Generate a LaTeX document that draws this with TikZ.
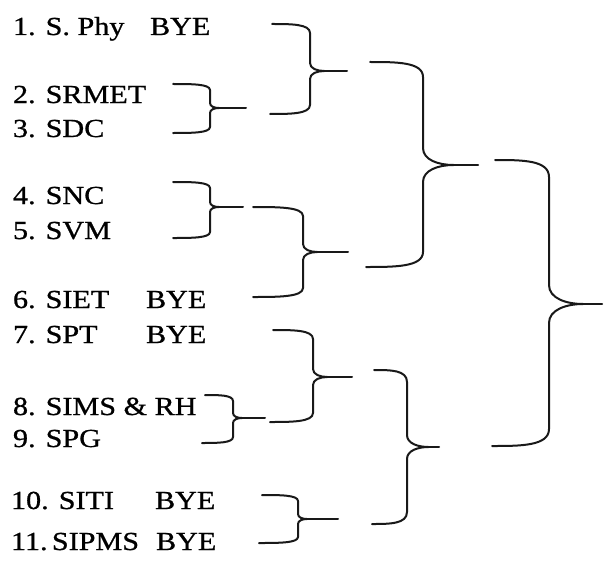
\documentclass[tikz,border=0pt]{standalone}
\usepackage{fontspec}
\setmainfont{Liberation Serif}[FakeStretch=1.16,FakeBold=0.8]
\begin{document}
\begin{tikzpicture}[x=1pt,y=-1pt,
  brline/.style={line width=2pt,line cap=round,line join=round,black!90},
  team/.style={anchor=base west,inner sep=0pt,outer sep=0pt,font=\fontsize{26}{30}\selectfont}]
\newcommand\brk[9]{%
 \draw[brline] (#1,#5) .. controls ({(#1+#3)/2},#5) and (#3,#5) .. (#3,{#5+#8})
   -- (#3,{#6-#9}) .. controls (#3,{#6-0.3*#9}) and ({#3+0.9*#9},#6) .. ({#3+1.8*#9},#6)
   .. controls ({#3+0.9*#9},#6) and (#3,{#6+0.3*#9}) .. (#3,{#6+#9})
   -- (#3,{#7-#8}) .. controls (#3,#7) and ({(#2+#3)/2},#7) .. (#2,#7);
 \draw[brline] ({#3+1.8*#9},#6) -- (#4,#6);}
\path[use as bounding box,fill=white] (0,0) rectangle (604,575);
% teams
\node[team] (t1) at (13,35) {1. S. Phy};
\node[team] (b1) at (150,35) {BYE};
\node[team] (t2) at (13,103) {2. SRMET};
\node[team] (t3) at (13,137) {3. SDC};
\node[team] (t4) at (13,204) {4. SNC};
\node[team] (t5) at (13,239) {5. SVM};
\node[team] (t6) at (13,308) {6. SIET};
\node[team] (b6) at (146,308) {BYE};
\node[team] (t7) at (13,343) {7. SPT};
\node[team] (b7) at (146,343) {BYE};
\node[team] (t8) at (13,415) {8. SIMS \& RH};
\node[team] (t9) at (13,447) {9. SPG};
\node[team] (t10) at (11,509) {10. SITI};
\node[team] (b10) at (155,509) {BYE};
\node[team] (t11) at (11,550) {11.\,SIPMS};
\node[team] (b11) at (156,550) {BYE};
% braces
\brk{272}{270}{310}{347}{24}{71}{114}{9}{8}
\brk{173}{173}{210}{246}{84}{108}{133}{6}{5}
\brk{173}{173}{210}{243}{182}{207}{238}{6}{5}
\brk{253}{253}{303}{348}{207}{252}{297}{9}{8}
\brk{370}{366}{423}{478}{62}{165}{267}{15}{17}
\brk{495}{492}{549}{602}{160}{304}{446}{17}{19}
\brk{273}{270}{313}{352}{330}{377}{422}{9}{8}
\brk{205}{202}{233}{265}{395}{418}{443}{6}{5}
\brk{262}{259}{298}{338}{495}{519}{543}{6}{5}
\brk{374}{372}{407}{439}{370}{447}{524}{12}{12}
\end{tikzpicture}
\end{document}
